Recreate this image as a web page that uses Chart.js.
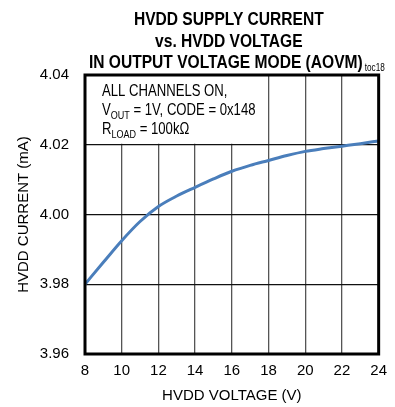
<!DOCTYPE html>
<html>
<head>
<meta charset="utf-8">
<script src="https://cdn.jsdelivr.net/npm/chart.js@4.4.1/dist/chart.umd.min.js"></script>
<style>
  html, body { margin: 0; padding: 0; background: #fff; }
  #wrap { width: 395px; height: 407px; }
</style>
</head>
<body>
<div id="wrap"><canvas id="hvddChart"></canvas></div>
<script>
// HVDD supply current vs HVDD voltage
const voltage = [8, 9, 10, 11, 12, 13, 14, 15, 16, 17, 18, 19, 20, 21, 22, 23, 24];
const current = [3.9800, 3.9863, 3.9925, 3.9980, 4.0023, 4.0053, 4.0078, 4.0102, 4.0124,
                 4.0141, 4.0155, 4.0169, 4.0181, 4.0189, 4.0196, 4.0203, 4.0211];
const xTicks = [8, 10, 12, 14, 16, 18, 20, 22, 24];
const yTicks = [3.96, 3.98, 4.00, 4.02, 4.04];
const titleLines = ['HVDD SUPPLY CURRENT', 'vs. HVDD VOLTAGE', 'IN OUTPUT VOLTAGE MODE (AOVM)'];

const NARROW = '"Liberation Sans Narrow", "Arial Narrow"';
const FONT = NARROW + ', "Liberation Sans", Arial, sans-serif';

// check whether a narrow face is really there; if not, squeeze the canvas text ourselves
const probe = document.createElement('canvas').getContext('2d');
probe.font = '20px ' + NARROW + ', monospace';
const wNarrow = probe.measureText('HVDD SUPPLY CURRENT').width;
probe.font = '20px monospace';
const wMono = probe.measureText('HVDD SUPPLY CURRENT').width;
const hasNarrow = Math.abs(wNarrow - wMono) > 1;
const squeeze = hasNarrow ? 1 : 0.82;

function squeezedText(ctx, text, x, y, align) {
    ctx.save();
    ctx.translate(x, y);
    ctx.scale(squeeze, 1);
    ctx.textAlign = align || 'left';
    ctx.fillText(text, 0, 0);
    ctx.restore();
    return ctx.measureText(text).width * squeeze;
}

const frameAndText = {
    id: 'frameAndText',
    beforeDatasetsDraw(chart) {
        const { ctx, chartArea, scales } = chart;
        // white box behind the conditions text
        const boxRight = scales.x.getPixelForValue(17.1);
        const boxBottom = scales.y.getPixelForValue(4.02) - 1;
        ctx.save();
        ctx.fillStyle = '#fff';
        ctx.fillRect(chartArea.left, chartArea.top, boxRight - chartArea.left, boxBottom - chartArea.top);
        ctx.fillStyle = '#000';
        ctx.font = '16px ' + FONT;
        ctx.textBaseline = 'alphabetic';
        const x0 = chartArea.left + 17;
        squeezedText(ctx, 'ALL CHANNELS ON,', x0, chartArea.top + 21);
        // V_OUT line
        let x = x0;
        let y = chartArea.top + 40;
        x += squeezedText(ctx, 'V', x, y);
        ctx.font = '11px ' + FONT;
        x += squeezedText(ctx, 'OUT', x, y + 4);
        ctx.font = '16px ' + FONT;
        squeezedText(ctx, ' = 1V, CODE = 0x148', x, y);
        // R_LOAD line
        x = x0;
        y = chartArea.top + 59;
        x += squeezedText(ctx, 'R', x, y);
        ctx.font = '11px ' + FONT;
        x += squeezedText(ctx, 'LOAD', x, y + 4);
        ctx.font = '16px ' + FONT;
        squeezedText(ctx, ' = 100k\u03A9', x, y);
        ctx.restore();
    },
    afterDraw(chart) {
        const { ctx, chartArea } = chart;
        ctx.save();
        ctx.strokeStyle = '#000';
        ctx.lineWidth = 3;
        ctx.strokeRect(chartArea.left, chartArea.top, chartArea.right - chartArea.left, chartArea.bottom - chartArea.top);
        // title, centred over the plot
        const cx = (chartArea.left + chartArea.right) / 2;
        ctx.fillStyle = '#000';
        ctx.font = 'bold 19px ' + FONT;
        squeezedText(ctx, titleLines[0], cx - 3, 25, 'center');
        squeezedText(ctx, titleLines[1], cx - 3, 46.5, 'center');
        const w = squeezedText(ctx, titleLines[2], cx - 6, 68, 'center');
        ctx.font = '10px ' + FONT;
        squeezedText(ctx, 'toc18', cx - 6 + w / 2 + 2, 71);
        ctx.restore();
    }
};

const ctx = document.getElementById('hvddChart').getContext('2d');
const hvddChart = new Chart(ctx, {
    type: 'line',
    data: {
        datasets: [{
            label: 'HVDD current',
            data: voltage.map((v, i) => ({ x: v, y: current[i] })),
            borderColor: '#4a7ebb',
            borderWidth: 3,
            pointRadius: 0,
            cubicInterpolationMode: 'monotone',
            fill: false
        }]
    },
    options: {
        responsive: true,
        maintainAspectRatio: false,
        animation: false,
        layout: { padding: { top: 75, right: 11, left: 0, bottom: 0 } },
        plugins: {
            legend: { display: false },
            tooltip: { enabled: false }
        },
        scales: {
            x: {
                type: 'linear',
                min: 8,
                max: 24,
                afterBuildTicks: (scale) => { scale.ticks = xTicks.map(v => ({ value: v })); },
                afterFit: (scale) => { scale.height = 53; },
                grid: { color: '#555', lineWidth: 1.3, drawTicks: false },
                border: { display: false },
                ticks: {
                    color: '#000',
                    padding: 8,
                    maxRotation: 0,
                    font: { family: FONT, size: 15 }
                },
                title: {
                    display: true,
                    text: 'HVDD VOLTAGE (V)',
                    color: '#000',
                    padding: { top: 0, bottom: 2 },
                    font: { family: FONT, size: 15 }
                }
            },
            y: {
                type: 'linear',
                min: 3.96,
                max: 4.04,
                afterBuildTicks: (scale) => { scale.ticks = yTicks.map(v => ({ value: v })); },
                afterFit: (scale) => { scale.width = 85; },
                grid: { color: '#111', lineWidth: 1.3, drawTicks: false },
                border: { display: false },
                ticks: {
                    color: '#000',
                    padding: 16,
                    font: { family: FONT, size: 15 },
                    callback: (v) => Number(v).toFixed(2)
                },
                title: {
                    display: true,
                    text: 'HVDD CURRENT (mA)',
                    color: '#000',
                    padding: { top: 15, bottom: 0 },
                    font: { family: FONT, size: 15 }
                }
            }
        }
    },
    plugins: [frameAndText]
});
</script>
</body>
</html>
